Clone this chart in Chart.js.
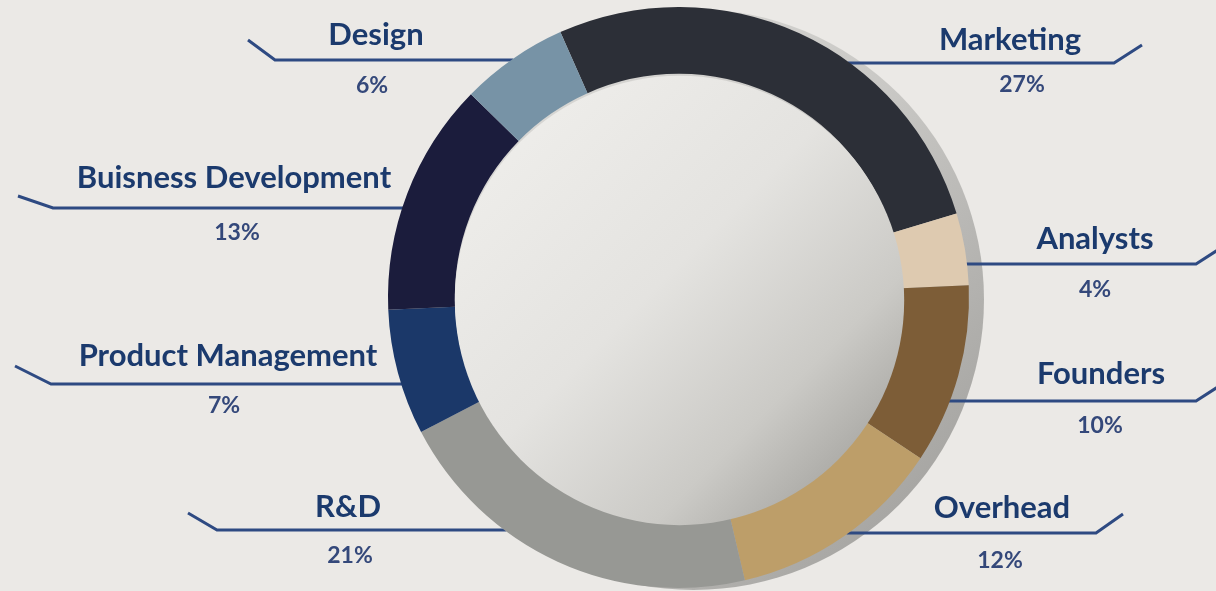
<!DOCTYPE html>
<html>
<head>
<meta charset="utf-8">
<script src="https://cdn.jsdelivr.net/npm/chart.js@4/dist/chart.umd.min.js"></script>
<style>
  html, body { margin: 0; padding: 0; background: #ebe9e6; }
  #wrap { width: 1216px; height: 591px; position: relative; }
</style>
</head>
<body>
<div id="wrap"><canvas id="budget"></canvas></div>
<script>
// data, clockwise from the top
const categories = ["Marketing", "Analysts", "Founders", "Overhead", "R&D",
  "Product Management", "Buisness Development", "Design"];
const shares = [27, 4, 10, 12, 21, 7, 13, 6];
const sliceColors = ["#2c2f37", "#decab0", "#7d5d37", "#bd9e69", "#979894",
  "#1b3869", "#1b1c3c", "#7793a6"];

// callout layout (line y, elbow x, slanted tip, text anchors)
const callouts = [
  { lineY: 63, elbowX: 1114, tipX: 1142, tipY: 45, nameX: 1010, nameY: 50, pctX: 1022, pctY: 92 },
  { lineY: 264, elbowX: 1196, tipX: 1224, tipY: 246, nameX: 1095, nameY: 249, pctX: 1095, pctY: 297 },
  { lineY: 401, elbowX: 1196, tipX: 1224, tipY: 383, nameX: 1101, nameY: 384, pctX: 1100, pctY: 433 },
  { lineY: 533, elbowX: 1096, tipX: 1123, tipY: 514, nameX: 1002, nameY: 518, pctX: 1000, pctY: 568 },
  { lineY: 530, elbowX: 217, tipX: 188, tipY: 513, nameX: 348, nameY: 517, pctX: 350, pctY: 563 },
  { lineY: 384, elbowX: 51, tipX: 15, tipY: 366, nameX: 228, nameY: 366, pctX: 224, pctY: 413 },
  { lineY: 208, elbowX: 53, tipX: 18, tipY: 196, nameX: 234, nameY: 188, pctX: 237, pctY: 240 },
  { lineY: 60, elbowX: 275, tipX: 248, tipY: 40, nameX: 376, nameY: 45, pctX: 372, pctY: 93 },
];

function ringGeom(chart) {
  const arc = chart.getDatasetMeta(0).data[0];
  return arc.getProps(["x", "y", "outerRadius", "innerRadius"], true);
}

const decor = {
  id: "decor",
  beforeDatasetsDraw(chart) {
    const ctx = chart.ctx;
    const { x, y, outerRadius: R } = ringGeom(chart);
    ctx.save();
    // grey rim shadow behind the ring
    const g = ctx.createLinearGradient(x - R, y - R, x + R, y + R);
    g.addColorStop(0, "#e2e1de");
    g.addColorStop(0.5, "#c9c8c5");
    g.addColorStop(1, "#9c9b98");
    ctx.fillStyle = g;
    ctx.beginPath();
    ctx.arc(x + 15, y + 2, R, 0, Math.PI * 2);
    ctx.fill();
    // leader lines, ending at the ring edge
    ctx.strokeStyle = "#2e4a82";
    ctx.lineWidth = 3;
    ctx.lineJoin = "miter";
    callouts.forEach((c) => {
      const dy = c.lineY - y;
      const half = Math.sqrt(Math.max(R * R - dy * dy, 0));
      const edgeX = c.elbowX > x ? x + half - 2 : x - half + 2;
      ctx.beginPath();
      ctx.moveTo(c.tipX, c.tipY);
      ctx.lineTo(c.elbowX, c.lineY);
      ctx.lineTo(edgeX, c.lineY);
      ctx.stroke();
    });
    ctx.restore();
  },
  afterDatasetsDraw(chart) {
    const ctx = chart.ctx;
    const { x, y, innerRadius: r } = ringGeom(chart);
    ctx.save();
    // shaded centre disc
    const g = ctx.createLinearGradient(x - r * 0.75, y - r * 0.75, x + r * 0.75, y + r * 0.75);
    g.addColorStop(0, "#eeedea");
    g.addColorStop(0.45, "#e4e3e0");
    g.addColorStop(0.8, "#cbcac6");
    g.addColorStop(1, "#acaba7");
    ctx.fillStyle = g;
    ctx.beginPath();
    ctx.arc(x + 1, y + 3, r + 1, 0, Math.PI * 2);
    ctx.fill();
    // labels
    ctx.textAlign = "center";
    ctx.textBaseline = "alphabetic";
    callouts.forEach((c, i) => {
      ctx.fillStyle = "#1b3a6d";
      ctx.font = "bold 31px Lato";
      ctx.fillText(categories[i], c.nameX, c.nameY);
      ctx.fillStyle = "#34487a";
      ctx.font = "bold 23px Lato";
      ctx.fillText(shares[i] + "%", c.pctX, c.pctY);
    });
    ctx.restore();
  },
};

new Chart(document.getElementById("budget"), {
  type: "doughnut",
  data: {
    labels: categories,
    datasets: [{ data: shares, backgroundColor: sliceColors, borderWidth: 0, hoverOffset: 0 }],
  },
  options: {
    responsive: true,
    maintainAspectRatio: false,
    animation: false,
    rotation: -24,
    cutout: "77%",
    layout: { padding: { left: 387, right: 246, top: 7, bottom: 3 } },
    plugins: { legend: { display: false }, tooltip: { enabled: false } },
  },
  plugins: [decor],
});
</script>
</body>
</html>
